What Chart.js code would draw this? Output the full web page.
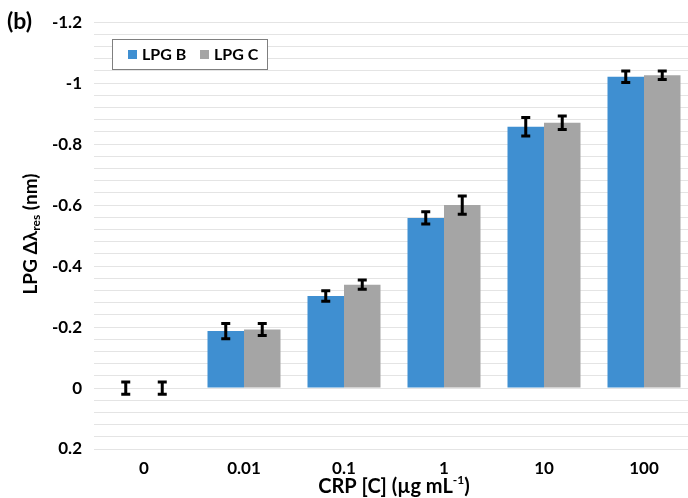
<!DOCTYPE html>
<html>
<head>
<meta charset="utf-8">
<script src="https://cdn.jsdelivr.net/npm/chart.js@4"></script>
<style>
    html, body { margin: 0; padding: 0; background: #fff; overflow: hidden; }
    #wrap { width: 688px; height: 498px; overflow: hidden; }
</style>
</head>
<body>
<div id="wrap"><canvas id="chart" width="694" height="498"></canvas></div>
<script>
// Data (negative shift plotted upward on a reversed axis)
const categories = ['0', '0.01', '0.1', '1', '10', '100'];
const lpgB = [0, -0.187, -0.302, -0.558, -0.857, -1.021];
const lpgBErr = [0.02, 0.025, 0.017, 0.02, 0.03, 0.019];
const lpgC = [0, -0.192, -0.339, -0.600, -0.870, -1.026];
const lpgCErr = [0.02, 0.02, 0.015, 0.03, 0.022, 0.014];
const yMajorTicks = [-1.2, -1, -0.8, -0.6, -0.4, -0.2, 0, 0.2];
const yMinorStep = 0.04;

const FONT = 'Lato, "Open Sans", sans-serif';

// Draws the error bars on top of each bar
const errorBars = {
    id: 'errorBars',
    afterDatasetsDraw(chart) {
        const { ctx, scales: { y } } = chart;
        chart.data.datasets.forEach((ds, i) => {
            const meta = chart.getDatasetMeta(i);
            meta.data.forEach((bar, j) => {
                const v = ds.data[j];
                const e = ds.errors[j];
                const y1 = y.getPixelForValue(v - e);
                const y2 = y.getPixelForValue(v + e);
                ctx.save();
                ctx.strokeStyle = '#000';
                ctx.lineWidth = 3;
                ctx.beginPath();
                ctx.moveTo(bar.x, y1); ctx.lineTo(bar.x, y2);
                ctx.moveTo(bar.x - 4.5, y1); ctx.lineTo(bar.x + 4.5, y1);
                ctx.moveTo(bar.x - 4.5, y2); ctx.lineTo(bar.x + 4.5, y2);
                ctx.stroke();
                ctx.restore();
            });
        });
    }
};

// Axis titles with sub/superscripts, panel label and boxed legend
const annotations = {
    id: 'annotations',
    afterDraw(chart) {
        const ctx = chart.ctx;
        ctx.save();
        ctx.fillStyle = '#000';
        ctx.textBaseline = 'middle';

        // panel label
        ctx.font = 'bold 23px ' + FONT;
        ctx.textAlign = 'left';
        ctx.fillText('(b)', 7, 22);

        // y title
        ctx.save();
        ctx.translate(31, 234);
        ctx.rotate(-Math.PI / 2);
        const big = 'bold 19px ' + FONT, small = 'bold 12px ' + FONT;
        ctx.font = big; const w1 = ctx.measureText('LPG Δλ').width;
        ctx.font = small; const w2 = ctx.measureText('res').width;
        ctx.font = big; const w3 = ctx.measureText(' (nm)').width;
        let x0 = -(w1 + w2 + w3) / 2;
        ctx.font = big; ctx.fillText('LPG Δλ', x0, 0);
        ctx.font = small; ctx.fillText('res', x0 + w1, 5);
        ctx.font = big; ctx.fillText(' (nm)', x0 + w1 + w2, 0);
        ctx.restore();

        // x title
        const xb = 'bold 20px ' + FONT, xs = 'bold 12px ' + FONT;
        ctx.font = xb; const a = ctx.measureText('CRP [C] (µg mL').width;
        ctx.font = xs; const b = ctx.measureText('-1').width;
        ctx.font = xb; const c = ctx.measureText(')').width;
        let xs0 = 394 - (a + b + c) / 2;
        const yt = 487;
        ctx.font = xb; ctx.fillText('CRP [C] (µg mL', xs0, yt);
        ctx.font = xs; ctx.fillText('-1', xs0 + a, yt - 7);
        ctx.font = xb; ctx.fillText(')', xs0 + a + b, yt);

        // legend box
        ctx.fillStyle = '#fff';
        ctx.fillRect(112, 39, 155, 30);
        ctx.strokeStyle = '#7f7f7f';
        ctx.lineWidth = 1;
        ctx.strokeRect(112.5, 39.5, 155, 30);
        ctx.font = 'bold 16px ' + FONT;
        const legX = [128, 200];
        chart.data.datasets.forEach((ds, i) => {
            ctx.fillStyle = ds.backgroundColor;
            ctx.fillRect(legX[i], 50, 9, 9);
            ctx.fillStyle = '#000';
            ctx.fillText(ds.label, legX[i] + 14, 55);
        });
        ctx.restore();
    }
};

const ctx = document.getElementById('chart').getContext('2d');
const chart = new Chart(ctx, {
    type: 'bar',
    data: {
        labels: categories,
        datasets: [
            { label: 'LPG B', data: lpgB, errors: lpgBErr, backgroundColor: '#3f8fd1', borderWidth: 0 },
            { label: 'LPG C', data: lpgC, errors: lpgCErr, backgroundColor: '#a5a5a5', borderWidth: 0 }
        ]
    },
    options: {
        responsive: false,
        devicePixelRatio: 1,
        animation: false,
        categoryPercentage: 0.73,
        barPercentage: 1,
        layout: { padding: { top: 22, right: 0, left: 0, bottom: 0 } },
        plugins: {
            legend: { display: false },
            tooltip: { enabled: false }
        },
        scales: {
            x: {
                grid: { display: false },
                border: { display: false },
                ticks: {
                    color: '#000',
                    padding: 1,
                    font: { family: FONT, size: 17, weight: 'bold' }
                },
                afterFit(scale) { scale.height = 49; }
            },
            y: {
                reverse: true,
                min: -1.2,
                max: 0.2,
                border: { display: false },
                grid: { color: '#e4e4e4', lineWidth: 1, drawTicks: false },
                afterBuildTicks(scale) {
                    const ticks = [];
                    const first = yMajorTicks[0], last = yMajorTicks[yMajorTicks.length - 1];
                    const n = Math.round((last - first) / yMinorStep);
                    for (let i = 0; i <= n; i++) {
                        ticks.push({ value: +(first + i * yMinorStep).toFixed(2) });
                    }
                    scale.ticks = ticks;
                },
                ticks: {
                    color: '#000',
                    padding: 12,
                    autoSkip: false,
                    font: { family: FONT, size: 17, weight: 'bold' },
                    callback(value) {
                        const major = yMajorTicks.find(t => Math.abs(t - value) < 1e-6);
                        return major === undefined ? '' : String(major);
                    }
                },
                afterFit(scale) { scale.width = 94; }
            }
        }
    },
    plugins: [errorBars, annotations]
});
</script>
</body>
</html>
